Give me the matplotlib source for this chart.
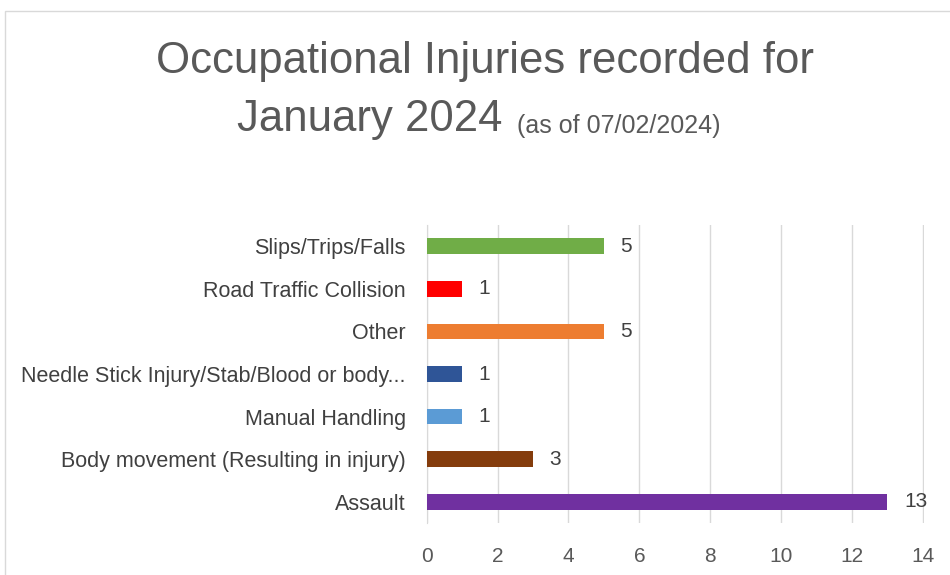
import matplotlib.pyplot as plt
from matplotlib.patches import Rectangle

categories = ["Assault", "Body movement (Resulting in injury)", "Manual Handling",
              "Needle Stick Injury/Stab/Blood or body...", "Other",
              "Road Traffic Collision", "Slips/Trips/Falls"]
counts = [13, 3, 1, 1, 5, 1, 5]
colors = ["#7030A0", "#843C0C", "#5B9BD5", "#2F5597", "#ED7D31", "#FF0000", "#70AD47"]
xticks = [0, 2, 4, 6, 8, 10, 12, 14]

W, H = 950, 575
plt.rcParams['font.family'] = ['Liberation Sans', 'DejaVu Sans']
grey = "#595959"

fig = plt.figure(figsize=(W / 100, H / 100), dpi=100)
ax = fig.add_axes([426.7 / W, 1 - 523 / H, (924 - 426.7) / W, (523 - 225) / H])

# chart border (cropped on right and bottom)
fig.patches.append(Rectangle((5 / W, -0.1), 1.2, 1 - 11 / H + 0.1, transform=fig.transFigure,
                             fill=False, edgecolor="#d9d9d9", lw=1))

y = range(len(categories))
ax.barh(y, counts, height=0.37, color=colors, zorder=3)
for i, v in enumerate(counts):
    ax.annotate(str(v), (v, i), xytext=(12, 0), textcoords="offset points",
                va="center", ha="left", fontsize=15, color="#404040")

ax.set_xlim(0, 14.03)
ax.set_ylim(-0.5, len(categories) - 0.5)
ax.set_xticks(xticks)
ax.set_yticks(list(y))
ax.set_yticklabels(categories, fontsize=15.5, color="#404040")
ax.tick_params(axis="x", labelsize=15, colors=grey, length=0, pad=17)
ax.tick_params(axis="y", length=0, pad=15)
ax.grid(axis="x", color="#d9d9d9", lw=1, zorder=0)
for s in ["top", "right", "bottom"]:
    ax.spines[s].set_visible(False)
ax.spines["left"].set_color("#d9d9d9")

fig.text(485 / W, 1 - 62 / H, "Occupational Injuries recorded for", ha="center", va="center",
         fontsize=31.5, color=grey)
fig.text(502 / W, 1 - 120 / H, "January 2024", ha="right", va="center", fontsize=31.5, color=grey)
fig.text(517 / W, 1 - 126 / H, "(as of 07/02/2024)", ha="left", va="center", fontsize=18, color=grey)

plt.savefig("out.png", dpi=100)
